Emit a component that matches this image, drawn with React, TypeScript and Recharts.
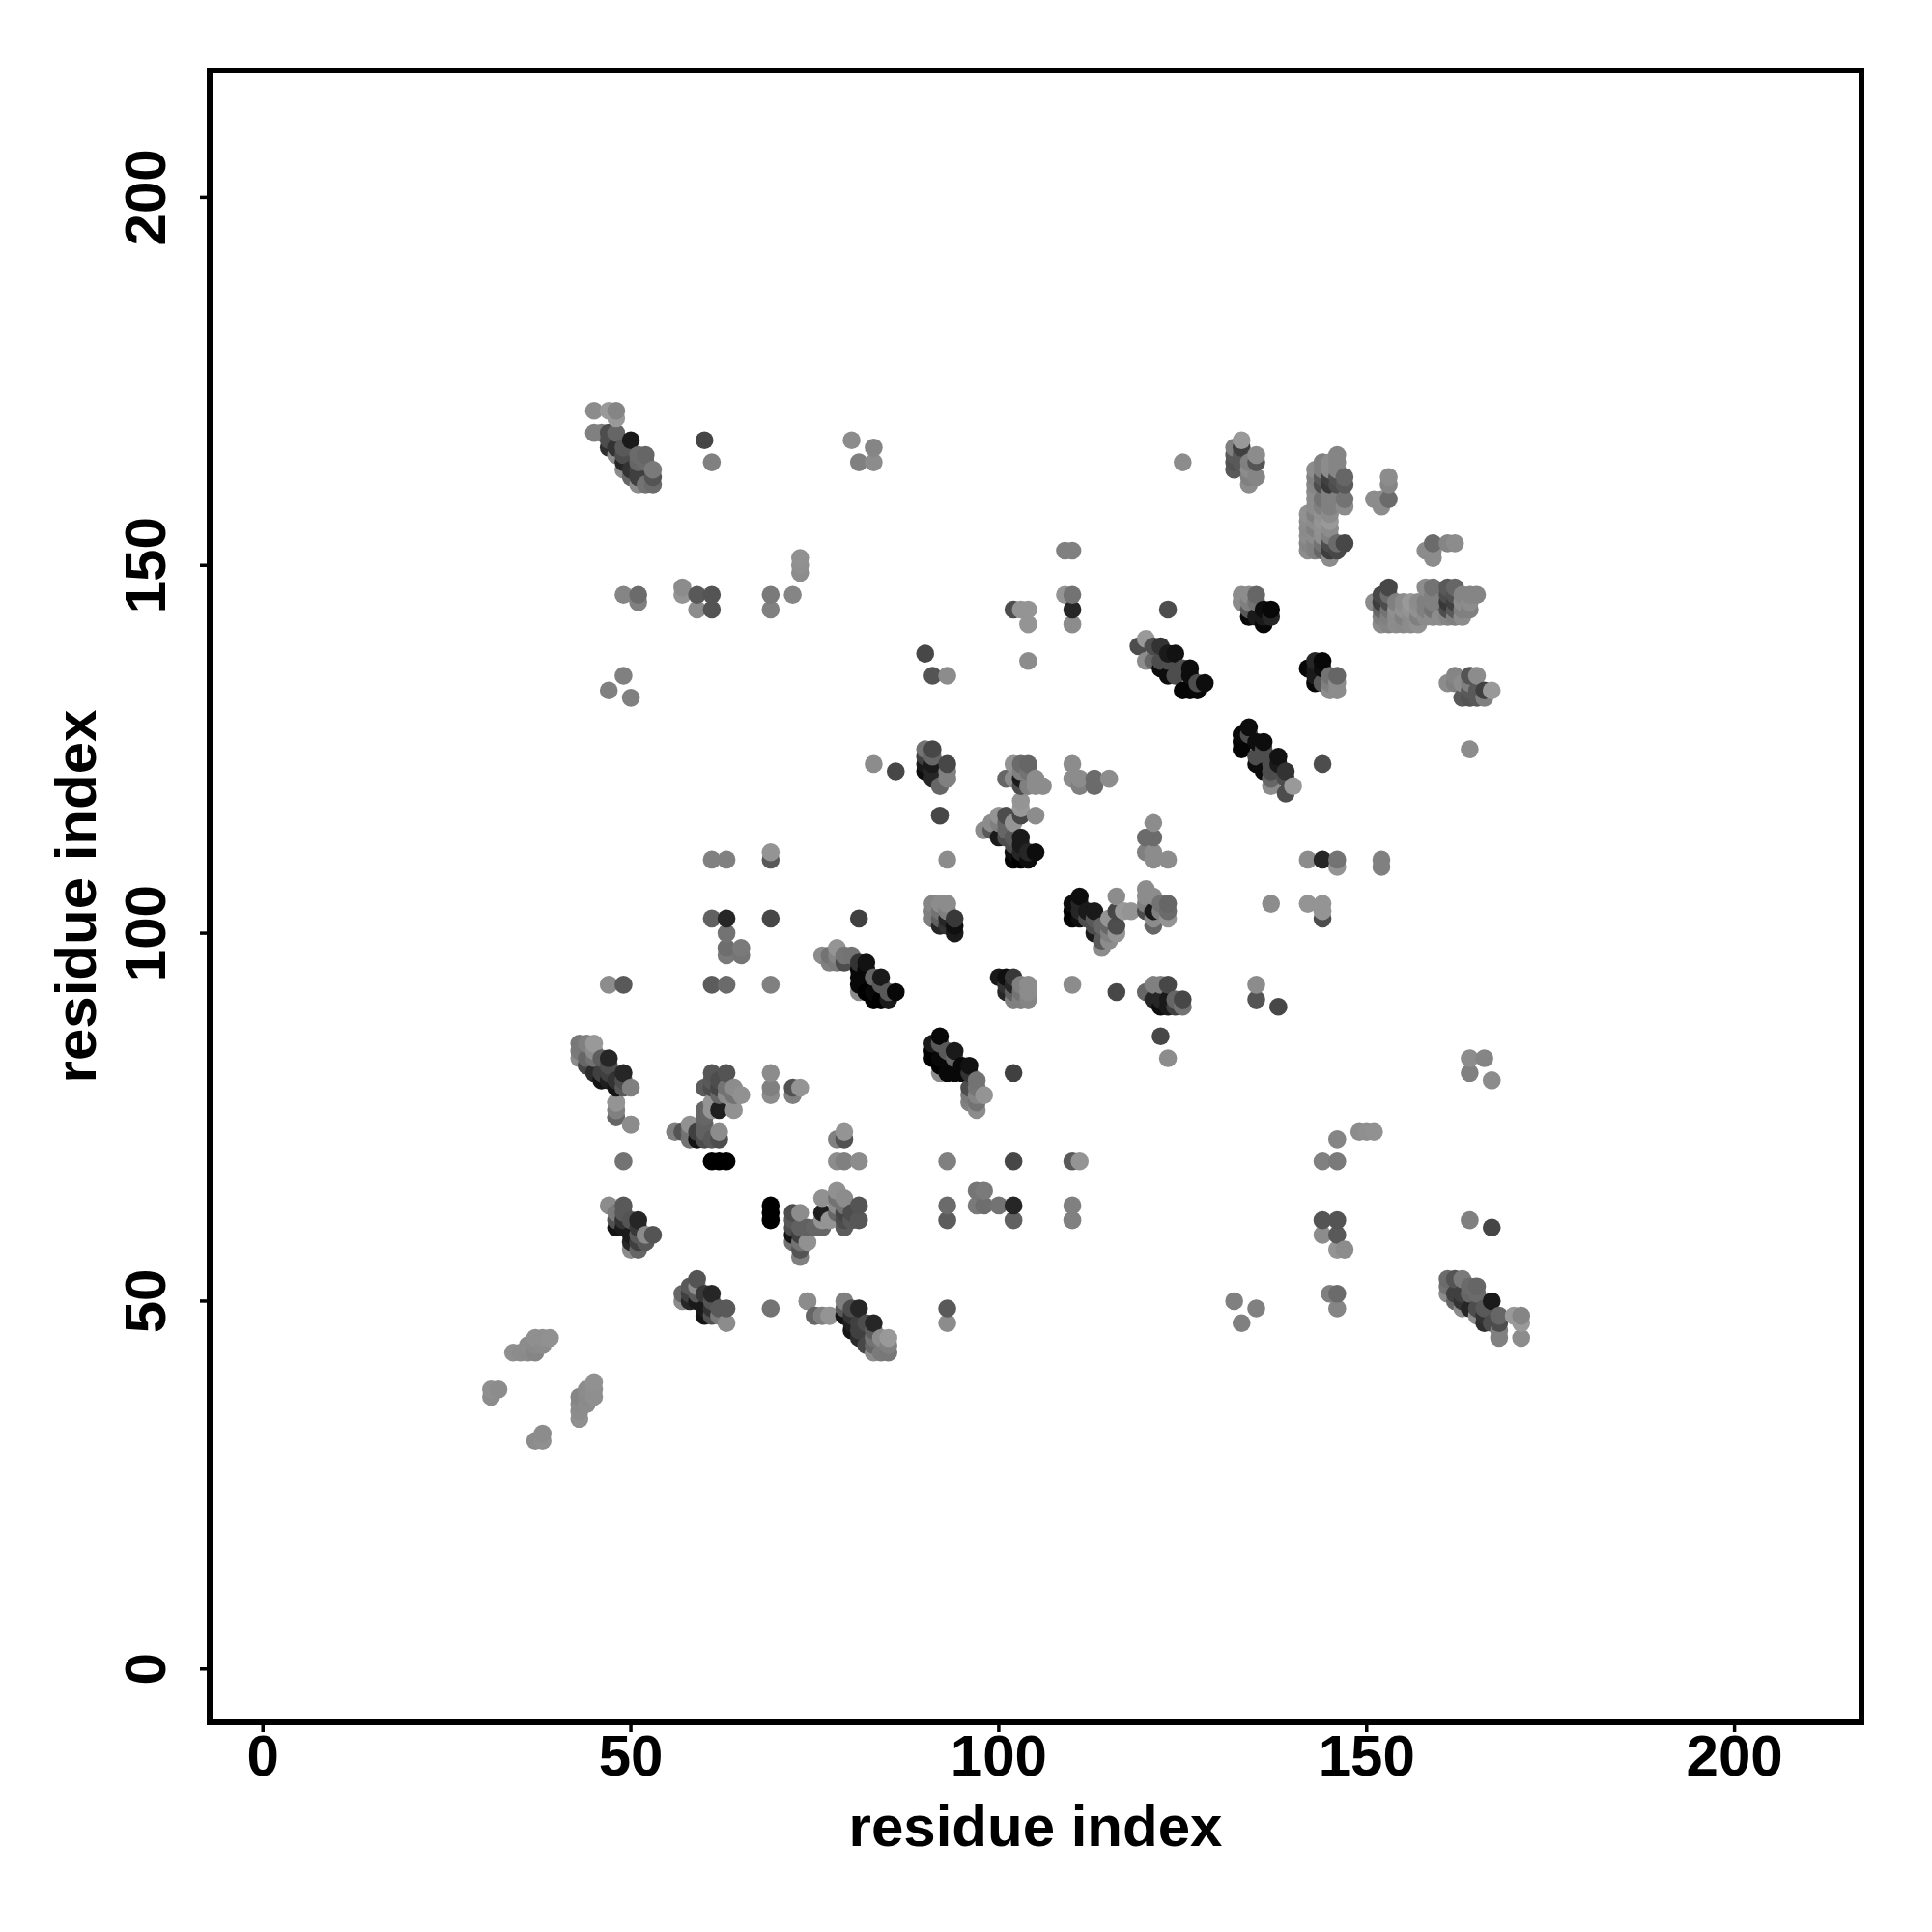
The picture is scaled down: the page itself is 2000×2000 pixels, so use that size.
import React from 'react';
import { ScatterChart, Scatter, XAxis, YAxis, ReferenceArea } from 'recharts';

type Contact = [number, number, number];

const axisTicks = [0, 50, 100, 150, 200];
const axisLabel = 'residue index';

// each contact is [residue i, residue j, grey level], the map is symmetric so only i < j is listed
const contacts30s: Contact[] = [
  [31, 37, 0.55], [31, 38, 0.56], [32, 38, 0.55], [34, 43, 0.56], [35, 43, 0.55], [36, 43, 0.54], [36, 44, 0.55],
  [37, 43, 0.52], [37, 44, 0.54], [37, 45, 0.56], [38, 44, 0.55], [38, 45, 0.56], [39, 45, 0.57],
];

const contacts43to50: Contact[] = [
  [43, 83, 0.55], [43, 84, 0.48], [43, 85, 0.47], [44, 82, 0.28], [44, 83, 0.4], [44, 85, 0.5], [45, 81, 0.17],
  [45, 83, 0.45], [45, 84, 0.55], [45, 85, 0.6], [46, 80, 0.08], [46, 81, 0.25], [46, 83, 0.37], [47, 80, 0.12],
  [47, 81, 0.25], [47, 82, 0.3], [47, 83, 0.15], [48, 75, 0.45], [48, 76, 0.58], [48, 77, 0.6], [48, 79, 0.08],
  [48, 80, 0.2], [49, 69, 0.45], [49, 79, 0.35], [49, 80, 0.3], [49, 81, 0.15], [50, 74, 0.55], [50, 79, 0.5],
  [47, 93, 0.55], [49, 93, 0.35], [47, 133, 0.5], [49, 135, 0.5], [50, 132, 0.5], [49, 146, 0.52], [51, 145, 0.5],
  [51, 146, 0.42],
];

const contacts47to53: Contact[] = [
  [47, 63, 0.55], [48, 60, 0.08], [48, 61, 0.32], [48, 62, 0.48], [49, 60, 0.1], [49, 61, 0.2], [49, 62, 0.35],
  [49, 63, 0.35], [50, 57, 0.55], [50, 58, 0.15], [50, 59, 0.1], [50, 61, 0.33], [51, 57, 0.4], [51, 58, 0.25],
  [51, 59, 0.35], [51, 60, 0.22], [51, 61, 0.15], [52, 58, 0.35], [52, 59, 0.55], [53, 59, 0.33],
];

const contacts45to53High: Contact[] = [
  [45, 168, 0.5], [45, 171, 0.55], [46, 168, 0.5], [47, 166, 0.18], [47, 167, 0.3], [47, 168, 0.3], [47, 171, 0.6],
  [48, 165, 0.55], [48, 166, 0.2], [48, 168, 0.4], [48, 170, 0.6], [48, 171, 0.52], [49, 163, 0.55], [49, 164, 0.15],
  [49, 165, 0.3], [49, 166, 0.35], [50, 162, 0.4], [50, 163, 0.2], [50, 167, 0.1], [51, 161, 0.55], [51, 162, 0.25],
  [51, 163, 0.25], [51, 164, 0.4], [51, 165, 0.42], [52, 161, 0.45], [52, 164, 0.42], [52, 165, 0.4], [53, 161, 0.42],
  [53, 162, 0.33], [53, 163, 0.48],
];

const contacts56to65: Contact[] = [
  [56, 73, 0.5], [57, 73, 0.33], [58, 72, 0.45], [58, 73, 0.45], [58, 74, 0.57], [59, 72, 0.08], [59, 73, 0.25],
  [60, 72, 0.3], [60, 73, 0.38], [60, 74, 0.38], [60, 75, 0.4], [60, 76, 0.4], [60, 79, 0.36], [61, 69, 0], [61, 72, 0.35],
  [61, 76, 0.58], [61, 77, 0.58], [61, 79, 0.3], [61, 80, 0.35], [61, 81, 0.34], [62, 69, 0], [62, 72, 0.3],
  [62, 73, 0.55], [62, 76, 0.12], [62, 78, 0.4], [62, 79, 0.27], [62, 80, 0.3], [63, 69, 0], [63, 78, 0.55],
  [63, 79, 0.45], [63, 81, 0.33], [64, 76, 0.57], [64, 78, 0.45], [64, 79, 0.55], [65, 78, 0.57],
];

const contacts57to83: Contact[] = [
  [57, 146, 0.58], [57, 147, 0.55], [59, 144, 0.55], [59, 146, 0.35], [60, 167, 0.27], [61, 144, 0.33], [61, 146, 0.33],
  [61, 164, 0.5], [69, 144, 0.5], [69, 146, 0.48], [72, 146, 0.52], [73, 149, 0.55], [73, 150, 0.56], [73, 151, 0.57],
  [80, 167, 0.55], [81, 164, 0.5], [83, 164, 0.55], [83, 166, 0.52], [61, 93, 0.36], [63, 93, 0.42], [69, 93, 0.5],
  [61, 102, 0.38], [63, 102, 0.15], [69, 102, 0.28], [81, 102, 0.25], [63, 100, 0.45], [63, 98, 0.43], [63, 97, 0.48],
  [65, 97, 0.46], [65, 98, 0.48], [61, 110, 0.5], [63, 110, 0.5], [69, 110, 0.35], [69, 111, 0.58], [83, 123, 0.55],
  [86, 122, 0.28], [69, 78, 0.55], [69, 79, 0.5], [69, 81, 0.55], [72, 78, 0.5], [72, 79, 0.32], [73, 79, 0.58],
];

const contacts74to86: Contact[] = [
  [50, 74, 0.55], [76, 97, 0.55], [77, 96, 0.5], [77, 97, 0.45], [78, 96, 0.48], [78, 97, 0.52], [78, 98, 0.58],
  [79, 96, 0.3], [79, 97, 0.46], [80, 97, 0.45], [81, 92, 0.55], [81, 93, 0.03], [81, 94, 0.03], [81, 95, 0.03],
  [81, 96, 0.2], [82, 92, 0], [82, 95, 0.03], [82, 96, 0.07], [83, 91, 0], [83, 92, 0.03], [83, 94, 0.4], [84, 91, 0],
  [84, 93, 0.35], [84, 94, 0.1], [85, 91, 0.1], [85, 92, 0.35], [86, 92, 0.03],
  [48, 75, 0.4], [48, 76, 0.5], [48, 77, 0.58],
];

const contacts90to94: Contact[] = [
  [90, 122, 0.05], [90, 123, 0.1], [90, 124, 0.25], [90, 125, 0.45], [91, 121, 0.15], [91, 122, 0.15], [91, 123, 0.1],
  [91, 124, 0.4], [91, 125, 0.28], [92, 120, 0.4], [93, 121, 0.5], [93, 122, 0.5], [93, 123, 0.28], [90, 138, 0.28],
  [91, 135, 0.33], [93, 135, 0.55], [92, 116, 0.28], [93, 110, 0.55], [91, 102, 0.5], [91, 103, 0.5], [91, 104, 0.52],
  [92, 101, 0.15], [92, 102, 0.38], [92, 103, 0.45], [92, 104, 0.55], [93, 101, 0.2], [93, 102, 0.15], [93, 103, 0.5],
  [93, 104, 0.55], [94, 100, 0.1], [94, 101, 0.06], [94, 102, 0.22],
];

const contacts98to116: Contact[] = [
  [98, 114, 0.55], [99, 114, 0.35], [99, 115, 0.55], [100, 113, 0.1], [100, 115, 0.5], [100, 116, 0.58], [101, 113, 0.3],
  [101, 114, 0.4], [101, 115, 0.4], [101, 116, 0.3], [102, 110, 0.02], [102, 111, 0.05], [102, 112, 0.3], [102, 113, 0.35],
  [102, 115, 0.58], [103, 110, 0], [103, 111, 0.15], [103, 112, 0.1], [103, 113, 0.1], [103, 116, 0.28], [103, 117, 0.6],
  [103, 118, 0.58], [104, 110, 0.05], [104, 111, 0.15], [105, 111, 0.05], [105, 116, 0.55], [101, 121, 0.4],
  [102, 121, 0.55], [102, 123, 0.58], [103, 120, 0.3], [103, 121, 0.1], [103, 122, 0.5], [103, 123, 0.42],
  [104, 120, 0.5], [104, 122, 0.45], [104, 123, 0.4], [105, 120, 0.55], [105, 121, 0.55], [106, 120, 0.55],
  [110, 121, 0.55], [110, 123, 0.55], [111, 120, 0.5], [111, 121, 0.55], [113, 120, 0.42], [113, 121, 0.42],
  [115, 121, 0.55], [102, 144, 0.3], [103, 144, 0.58], [104, 137, 0.55], [104, 142, 0.58], [104, 144, 0.58],
  [109, 146, 0.58], [109, 152, 0.5], [110, 142, 0.55], [110, 144, 0.15], [110, 146, 0.45], [110, 152, 0.5],
];

const contacts119to128: Contact[] = [
  [119, 139, 0.3], [120, 137, 0.55], [120, 140, 0.6], [121, 137, 0.4], [121, 139, 0.3], [122, 136, 0.05], [122, 137, 0.3],
  [122, 139, 0.2], [123, 135, 0.05], [123, 137, 0.3], [123, 138, 0.1], [124, 135, 0.3], [124, 138, 0.07], [125, 133, 0.02],
  [125, 136, 0.3], [126, 133, 0.02], [126, 135, 0.05], [126, 136, 0.05], [127, 133, 0.03], [127, 134, 0.3], [128, 134, 0.05],
  [123, 144, 0.3], [125, 164, 0.55],
];

const contacts132to137: Contact[] = [
  [132, 163, 0.35], [132, 164, 0.32], [132, 165, 0.35], [132, 166, 0.5], [133, 164, 0.35], [133, 165, 0.35], [133, 166, 0.25],
  [133, 167, 0.6], [134, 161, 0.55], [134, 162, 0.5], [134, 163, 0.55], [134, 164, 0.5], [135, 162, 0.52], [135, 164, 0.33],
  [135, 165, 0.55], [133, 145, 0.55], [133, 146, 0.55], [134, 143, 0.03], [134, 144, 0.35], [134, 145, 0.5], [134, 146, 0.55],
  [135, 143, 0.1], [135, 145, 0.45], [135, 146, 0.4], [136, 142, 0.03], [136, 143, 0.1], [136, 144, 0.05], [137, 143, 0.15],
  [137, 144, 0.03],
];

const contacts142to153: Contact[] = [
  [142, 152, 0.55], [142, 153, 0.52], [142, 154, 0.55], [142, 155, 0.54], [142, 156, 0.55], [142, 157, 0.57],
  [143, 152, 0.5], [143, 153, 0.5], [143, 154, 0.55], [143, 155, 0.5], [143, 156, 0.55], [143, 157, 0.5], [143, 158, 0.55],
  [143, 159, 0.55], [143, 160, 0.55], [143, 161, 0.52], [143, 162, 0.5], [143, 163, 0.55],
  [144, 152, 0.4], [144, 153, 0.45], [144, 154, 0.56], [144, 155, 0.57], [144, 156, 0.58], [144, 157, 0.57], [144, 158, 0.5],
  [144, 159, 0.45], [144, 161, 0.3], [144, 162, 0.35], [144, 163, 0.5], [144, 164, 0.5],
  [145, 151, 0.55], [145, 152, 0.24], [145, 153, 0.3], [145, 154, 0.5], [145, 155, 0.55], [145, 156, 0.6], [145, 157, 0.55],
  [145, 158, 0.5], [145, 159, 0.5], [145, 160, 0.5], [145, 161, 0.22], [145, 162, 0.25], [145, 163, 0.55], [145, 164, 0.55],
  [146, 152, 0.28], [146, 153, 0.42], [146, 159, 0.5], [146, 161, 0.3], [146, 162, 0.32], [146, 163, 0.52], [146, 164, 0.52],
  [146, 165, 0.52], [147, 153, 0.28], [147, 158, 0.55], [147, 159, 0.45], [147, 161, 0.35], [147, 162, 0.4],
  [151, 159, 0.55], [152, 158, 0.55], [152, 159, 0.55], [153, 159, 0.42], [153, 161, 0.52], [153, 162, 0.55],
];

const contactGroups = [
  contacts30s, contacts43to50, contacts47to53, contacts45to53High, contacts56to65, contacts57to83,
  contacts74to86, contacts90to94, contacts98to116, contacts119to128, contacts132to137, contacts142to153,
];

// every contact shows on both sides of the diagonal, and R plotted them in x then y order
const contactTable = contactGroups
  .flat()
  .flatMap(([i, j, grey]) => [{ x: i, y: j, grey }, { x: j, y: i, grey }])
  .sort((a, b) => a.x - b.x || a.y - b.y);

const font = { fontFamily: '"Liberation Sans", sans-serif', fontWeight: 700, fontSize: 60, fill: '#000' };

const ContactDot = (props: any) => {
  const level = Math.round(props.payload.grey * 255);
  return <circle cx={props.cx} cy={props.cy} r={9.3} fill={`rgb(${level},${level},${level})`} />;
};

const XTick = ({ x, y, payload }: any) => (
  <text x={x} y={y + 43} textAnchor="middle" {...font}>{payload.value}</text>
);

const YTick = ({ x, y, payload }: any) => (
  <text x={x} y={y} textAnchor="middle" transform={`rotate(-90 ${x} ${y})`} {...font}>{payload.value}</text>
);

export default function App() {
  return (
    <div style={{ position: 'absolute', left: 0, top: 0, background: '#fff' }}>
      <ScatterChart width={2000} height={2000} margin={{ top: 73, right: 73, left: 0, bottom: 0 }}>
        <XAxis
          type="number"
          dataKey="x"
          domain={[-7.25, 217.25]}
          ticks={axisTicks}
          height={217}
          axisLine={false}
          tickSize={10}
          tickLine={{ stroke: '#000', strokeWidth: 3.5 }}
          tick={XTick}
          label={{ value: axisLabel, position: 'insideBottom', offset: 89, ...font }}
        />
        <YAxis
          type="number"
          dataKey="y"
          domain={[-7.25, 217.25]}
          ticks={axisTicks}
          width={217}
          axisLine={false}
          tickSize={10}
          tickMargin={36}
          tickLine={{ stroke: '#000', strokeWidth: 3.5 }}
          tick={YTick}
          label={{ value: axisLabel, angle: -90, position: 'insideLeft', offset: 78, style: { textAnchor: 'middle' }, ...font }}
        />
        <ReferenceArea x1={-7.25} x2={217.25} y1={-7.25} y2={217.25} fill="none" stroke="#000" strokeWidth={6} fillOpacity={0} />
        <Scatter data={contactTable} shape={ContactDot} isAnimationActive={false} />
      </ScatterChart>
    </div>
  );
}
